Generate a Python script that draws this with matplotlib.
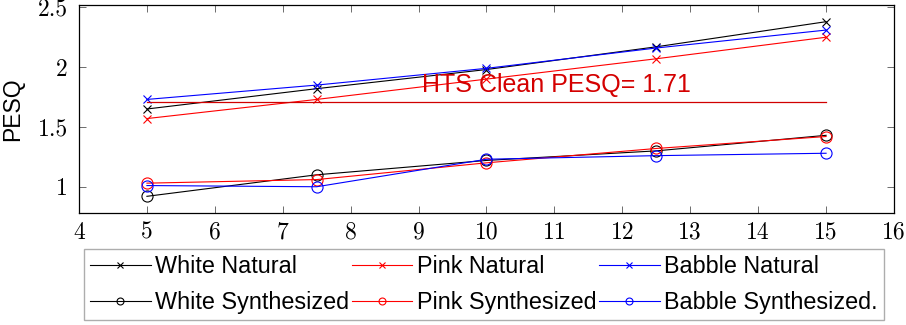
import matplotlib
matplotlib.use('Agg')
import matplotlib.pyplot as plt

# SNR levels (x axis)
snr = [5, 7.5, 10, 12.5, 15]

# PESQ scores
white_natural = [1.65, 1.82, 1.98, 2.17, 2.38]
pink_natural = [1.57, 1.73, 1.90, 2.07, 2.25]
babble_natural = [1.73, 1.85, 1.99, 2.16, 2.31]
white_synth = [0.92, 1.10, 1.22, 1.30, 1.43]
pink_synth = [1.03, 1.06, 1.20, 1.32, 1.42]
babble_synth = [1.01, 1.00, 1.23, 1.26, 1.28]

hts_clean = 1.71
hts_x = [5, 15]

xticks = list(range(4, 17))
yticks = [1, 1.5, 2, 2.5]
ytick_labels = ['1', '1.5', '2', '2.5']

sans = 'Liberation Sans'

fig = plt.figure(figsize=(9.06, 3.25), dpi=100)
ax = fig.add_axes([79 / 906, 1 - 213.3 / 325, (894 - 79) / 906, (213.3 - 5.3) / 325])

lw = 0.8
h_wn, = ax.plot(snr, white_natural, color='black', marker='x', ms=6, mew=0.8, lw=lw, label='White Natural')
h_pn, = ax.plot(snr, pink_natural, color='red', marker='x', ms=6, mew=0.8, lw=lw, label='Pink Natural')
h_bn, = ax.plot(snr, babble_natural, color='blue', marker='x', ms=6, mew=0.8, lw=lw, label='Babble Natural')
h_ws, = ax.plot(snr, white_synth, color='black', marker='o', ms=8, mfc='none', mew=0.8, lw=lw, label='White Synthesized')
h_ps, = ax.plot(snr, pink_synth, color='red', marker='o', ms=8, mfc='none', mew=0.8, lw=lw, label='Pink Synthesized')
h_bs, = ax.plot(snr, babble_synth, color='blue', marker='o', ms=8, mfc='none', mew=0.8, lw=lw, label='Babble Synthesized.')

# HTS clean reference line
ax.plot(hts_x, [hts_clean, hts_clean], color='#d00000', lw=0.9)
ax.text(9.05, 1.79, 'HTS Clean PESQ= %.2f' % hts_clean, color='#d40000',
        fontsize=18, family=sans, va='baseline', ha='left')

ax.set_xlim(4, 16)
ax.set_ylim(0.778, 2.517)
ax.set_xticks(xticks)
ax.set_xticklabels([str(t) for t in xticks])
ax.set_yticks(yticks)
ax.set_yticklabels(ytick_labels)
ax.tick_params(direction='in', top=True, right=True, length=5, width=0.6,
               color='#555555', labelsize=17, labelfontfamily='cmr10')
ax.tick_params(axis='x', pad=6)
ax.tick_params(axis='y', pad=8)
for sp in ax.spines.values():
    sp.set_linewidth(0.9)

ax.set_ylabel('PESQ', fontsize=16.5, family=sans)
ax.yaxis.set_label_coords(-55 / 815, 0.5)

leg = fig.legend(handles=[h_wn, h_ws, h_pn, h_ps, h_bn, h_bs], ncol=3,
                 loc='upper left', bbox_to_anchor=(84 / 906, 1 - 249 / 325),
                 prop={'family': sans, 'size': 16.8}, frameon=True, fancybox=False,
                 handlelength=2.6, handletextpad=0.2, columnspacing=0.1,
                 labelspacing=0.55, borderpad=0.25, borderaxespad=0)
leg.get_frame().set_edgecolor('#999999')
leg.get_frame().set_linewidth(1.0)
for h in leg.legend_handles:
    h.set_markersize(5)

fig.savefig('out.png', dpi=100)
